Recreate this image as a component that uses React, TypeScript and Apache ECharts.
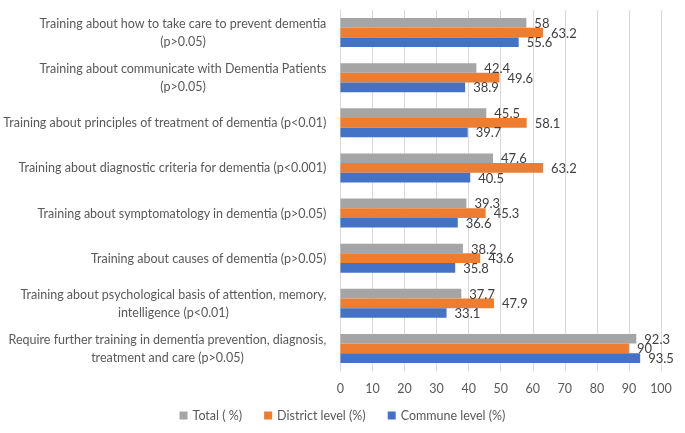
import React, { useEffect, useRef } from "react";
import * as echarts from "echarts";

const categories = [
  "Training about how to take care to prevent dementia\n(p>0.05)",
  "Training about communicate with Dementia Patients\n(p>0.05)",
  "Training about principles of treatment of dementia (p<0.01)",
  "Training about diagnostic criteria for dementia (p<0.001)",
  "Training about symptomatology in dementia (p>0.05)",
  "Training about causes of dementia (p>0.05)",
  "Training about psychological basis of attention, memory,\nintelligence (p<0.01)",
  "Require further training in dementia prevention, diagnosis,\ntreatment and care (p>0.05)",
];
const totalPct = [58, 42.4, 45.5, 47.6, 39.3, 38.2, 37.7, 92.3];
const districtPct = [63.2, 49.6, 58.1, 63.2, 45.3, 43.6, 47.9, 90];
const communePct = [55.6, 38.9, 39.7, 40.5, 36.6, 35.8, 33.1, 93.5];
const seriesNames = ["Total ( %)", "District level (%)", "Commune level (%)"];
const xTicks = [0, 10, 20, 30, 40, 50, 60, 70, 80, 90, 100];

const FONT = "Lato, 'Open Sans', sans-serif";
const FS = 12.5;

export default function App() {
  const ref = useRef<HTMLDivElement>(null);
  useEffect(() => {
    if (!ref.current) return;
    const chart = echarts.init(ref.current, undefined, { renderer: "svg" });
    const mk = (name: string, data: number[], color: string) => ({
      name,
      type: "bar",
      data,
      barGap: "0%",
      barCategoryGap: "36%",
      itemStyle: { color },
      label: {
        show: true,
        position: "right",
        distance: 8,
        color: "#404040",
        fontSize: 13,
        fontFamily: FONT,
      },
    });
    chart.setOption({
      animation: false,
      textStyle: { fontFamily: FONT },
      grid: { left: 340, right: 24, top: 10, bottom: 62, containLabel: false },
      legend: {
        data: seriesNames,
        left: "center",
        top: 404,
        icon: "rect",
        itemWidth: 8,
        itemHeight: 8,
        itemGap: 22,
        textStyle: { color: "#595959", fontSize: FS, fontFamily: FONT },
      },
      xAxis: {
        type: "value",
        min: xTicks[0],
        max: xTicks[xTicks.length - 1],
        interval: 10,
        axisLine: { show: false },
        axisTick: { show: false },
        splitLine: { show: true, lineStyle: { color: "#d9d9d9", width: 1 } },
        axisLabel: { color: "#595959", fontSize: FS, margin: 11, fontFamily: FONT },
      },
      yAxis: {
        type: "category",
        inverse: true,
        data: categories,
        axisLine: { show: true, lineStyle: { color: "#d9d9d9" } },
        axisTick: { show: false },
        axisLabel: {
          color: "#595959",
          fontSize: FS,
          margin: 14,
          fontFamily: FONT,
          lineHeight: 18,
          formatter: (v: string) =>
            v
              .split("\n")
              .map((s) => `{c|${s}}`)
              .join("\n"),
          rich: {
            c: {
              align: "center",
              color: "#595959",
              fontSize: FS,
              fontFamily: FONT,
              lineHeight: 18,
            },
          },
        },
      },
      series: [
        mk(seriesNames[0], totalPct, "#A5A5A5"),
        mk(seriesNames[1], districtPct, "#ED7D31"),
        mk(seriesNames[2], communePct, "#4472C4"),
      ],
    });
    return () => chart.dispose();
  }, []);
  return (
    <div
      ref={ref}
      style={{ position: "fixed", left: 0, top: 0, width: 685, height: 433 }}
    />
  );
}
